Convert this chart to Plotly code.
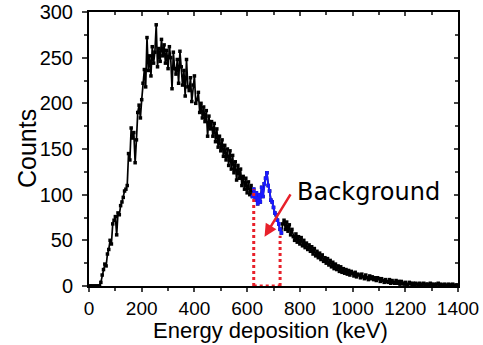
import plotly.graph_objects as go

# Energy bins (keV), 5 keV wide, 0..1400
bin_width = 5
counts = [
    # 0-95
    0, 0, 0, 0, 0, 0, 0, 0, 0, 4, 12, 18, 24, 22, 35, 40, 50, 46, 68, 72,
    # 100-195
    76, 56, 80, 78, 88, 92, 97, 104, 106, 110, 145, 138, 173, 162, 168, 135, 160, 190, 198, 184,
    # 200-295
    204, 222, 237, 218, 272, 236, 252, 230, 262, 244, 256, 286, 240, 260, 246, 270, 252, 264, 244, 258,
    # 300-395
    238, 262, 250, 216, 256, 238, 232, 248, 222, 257, 240, 220, 236, 208, 248, 218, 214, 228, 202, 220,
    # 400-495
    230, 200, 204, 212, 190, 200, 184, 196, 180, 192, 164, 186, 172, 180, 164, 178, 158, 172, 152, 164,
    # 500-595
    148, 160, 142, 154, 138, 150, 132, 148, 128, 143, 124, 136, 116, 132, 118, 128, 110, 120, 106, 118,
    # 600-695
    102, 114, 100, 110, 98, 106, 94, 102, 90, 100, 92, 108, 98, 112, 118, 124, 110, 104, 94, 92,
    # 700-795
    86, 80, 78, 72, 68, 62, 58, 68, 72, 62, 70, 60, 67, 56, 62, 54, 50, 57, 48, 54,
    # 800-895
    46, 53, 44, 50, 42, 47, 40, 45, 38, 43, 35, 41, 33, 38, 31, 36, 29, 34, 27, 31,
    # 900-995
    25, 30, 23, 28, 21, 26, 19, 24, 18, 22, 16, 21, 15, 19, 14, 18, 13, 17, 12, 16,
    # 1000-1095
    14, 11, 15, 10, 13, 12, 9, 13, 10, 8, 12, 9, 7, 11, 8, 10, 7, 9, 6, 9,
    # 1100-1195
    8, 5, 8, 6, 4, 7, 5, 4, 7, 3, 6, 4, 3, 6, 3, 5, 2, 5, 3, 2,
    # 1200-1295
    4, 2, 1, 4, 3, 1, 3, 1, 3, 2, 1, 3, 1, 2, 3, 1, 2, 2, 1, 3,
    # 1300-1400
    2, 1, 2, 1, 2, 3, 1, 2, 1, 1, 2, 1, 0, 2, 1, 1, 2, 0, 1, 1, 1,
]
energy = [i * bin_width for i in range(len(counts))]

# Blue highlighted window (keV)
blue_lo, blue_hi = 620, 730
# Red dotted background window (keV)
roi_lo, roi_hi = 625, 725

x_ticks = [0, 200, 400, 600, 800, 1000, 1200, 1400]
y_ticks = [0, 50, 100, 150, 200, 250, 300]

blue_x = [e for e in energy if blue_lo <= e <= blue_hi]
blue_y = [c for e, c in zip(energy, counts) if blue_lo <= e <= blue_hi]
roi_top_lo = counts[energy.index(roi_lo)]
roi_top_hi = counts[energy.index(roi_hi)] - 7

FONT = "Liberation Sans, Arial, sans-serif"

fig = go.Figure()
fig.add_trace(go.Scatter(
    x=energy, y=counts, mode="lines+markers",
    line=dict(color="black", width=1.7),
    marker=dict(symbol="square", size=3.5, color="black"),
    showlegend=False,
))
fig.add_trace(go.Scatter(
    x=blue_x, y=blue_y, mode="lines+markers",
    line=dict(color="#1a1aff", width=1.8),
    marker=dict(symbol="square", size=3.5, color="#1a1aff"),
    showlegend=False,
))
# dummy trace for top/right inside-tick axes
fig.add_trace(go.Scatter(x=[None], y=[None], xaxis="x2", yaxis="y2", showlegend=False))

red = "#e8202a"
for x0, y0, x1, y1 in [(roi_lo, 0, roi_lo, roi_top_lo),
                       (roi_hi, 0, roi_hi, roi_top_hi),
                       (roi_lo, 0, roi_hi, 0)]:
    fig.add_shape(type="line", x0=x0, y0=y0, x1=x1, y1=y1, xref="x", yref="y",
                  line=dict(color=red, width=3, dash="dot"))

fig.add_annotation(x=666, y=54, ax=768, ay=102, xref="x", yref="y", axref="x", ayref="y",
                   showarrow=True, arrowhead=2, arrowsize=1.0, arrowwidth=2.5, arrowcolor=red,
                   text="")
fig.add_annotation(x=782, y=103, xref="x", yref="y", text="Background", showarrow=False,
                   xanchor="left", yanchor="middle",
                   font=dict(family="DejaVu Sans, sans-serif", size=24, color="black"))

# Axis titles
fig.add_annotation(x=0.493, y=-0.2153, xref="paper", yref="paper", text="Energy deposition (keV)",
                   showarrow=False, xanchor="center", yanchor="bottom",
                   font=dict(family=FONT, size=22, color="black"))
fig.add_annotation(x=-0.168, y=0.5, xref="paper", yref="paper", text="Counts", textangle=-90,
                   showarrow=False, xanchor="center", yanchor="middle",
                   font=dict(family=FONT, size=25, color="black"))

axis_common = dict(showline=True, linecolor="black", linewidth=2, showgrid=False,
                   zeroline=False, automargin=False)

fig.update_layout(
    width=483, height=345,
    margin=dict(l=89, r=25, t=12, b=59),
    paper_bgcolor="white", plot_bgcolor="white",
    font=dict(family=FONT, color="black"),
    xaxis=dict(range=[0, 1400], tickvals=x_ticks, ticks="outside", ticklen=4, tickwidth=1.5,
               tickfont=dict(size=19, family=FONT), ticklabelstandoff=0,
               minor=dict(dtick=100, tick0=0, ticks="outside", ticklen=3, tickwidth=1.5),
               **axis_common),
    yaxis=dict(range=[0, 300], tickvals=y_ticks, ticks="outside", ticklen=5, tickwidth=1.5,
               tickfont=dict(size=20, family=FONT), ticklabelstandoff=5,
               minor=dict(dtick=25, tick0=0, ticks="outside", ticklen=3, tickwidth=1.5),
               **axis_common),
    xaxis2=dict(range=[0, 1400], overlaying="x", side="top", tickvals=x_ticks, ticks="inside",
                ticklen=4, tickwidth=1.5, showticklabels=False,
                minor=dict(dtick=100, tick0=0, ticks="inside", ticklen=3, tickwidth=1.5),
                **axis_common),
    yaxis2=dict(range=[0, 300], overlaying="y", side="right", tickvals=y_ticks, ticks="inside",
                ticklen=4, tickwidth=1.5, showticklabels=False,
                minor=dict(dtick=25, tick0=0, ticks="inside", ticklen=3, tickwidth=1.5),
                **axis_common),
)

fig.write_html("out.html")
